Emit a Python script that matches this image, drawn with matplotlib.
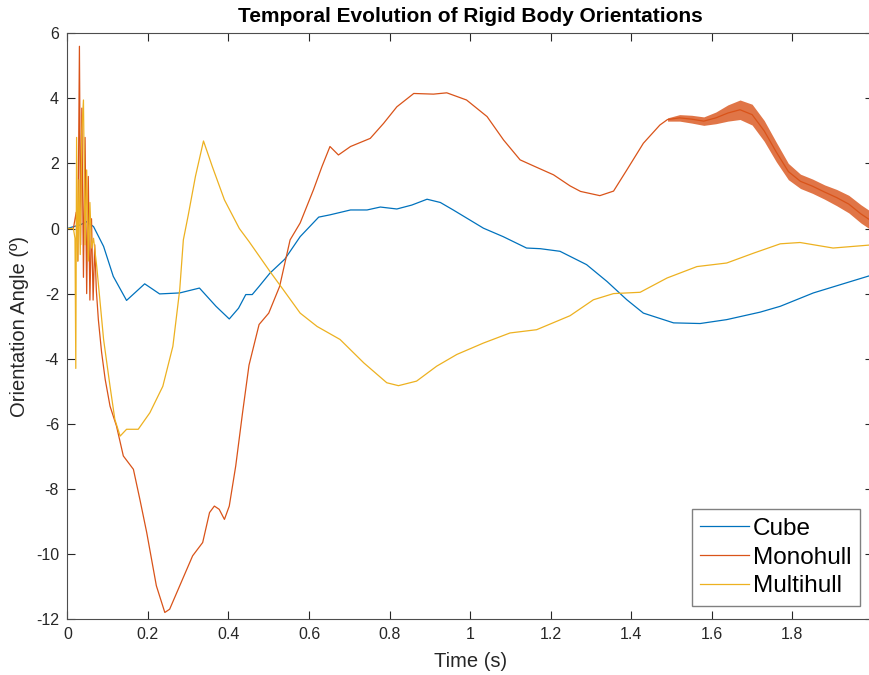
import numpy as np
import matplotlib.pyplot as plt

# Datos (tiempo en s, angulo en grados)
cube_t = [0, 0.016, 0.032, 0.048, 0.065, 0.090, 0.114, 0.147, 0.170, 0.192, 0.210, 0.229,
          0.279, 0.328, 0.369, 0.402, 0.425, 0.443, 0.459, 0.476, 0.503, 0.540, 0.578,
          0.624, 0.652, 0.703, 0.744, 0.777, 0.818, 0.855, 0.893, 0.926, 0.958, 1.033,
          1.082, 1.140, 1.174, 1.223, 1.289, 1.340, 1.389, 1.430, 1.505, 1.571, 1.637,
          1.720, 1.770, 1.852, 1.918, 2.0]
cube_v = [0, 0.06, 0.11, 0.21, 0.06, -0.55, -1.47, -2.21, -1.95, -1.70, -1.85, -2.01,
          -1.98, -1.83, -2.39, -2.78, -2.45, -2.03, -2.03, -1.78, -1.37, -0.94, -0.25,
          0.35, 0.42, 0.57, 0.57, 0.66, 0.60, 0.72, 0.90, 0.80, 0.57, 0.01,
          -0.25, -0.60, -0.62, -0.70, -1.11, -1.63, -2.19, -2.60, -2.90, -2.92, -2.80,
          -2.57, -2.39, -1.98, -1.73, -1.42]

mono_t = [0, 0.015, 0.022, 0.026, 0.030, 0.033, 0.036, 0.040, 0.044, 0.048, 0.052, 0.056,
          0.060, 0.064, 0.068, 0.072, 0.077, 0.085, 0.094, 0.106, 0.122, 0.139, 0.164,
          0.180, 0.197, 0.221, 0.242, 0.254, 0.279, 0.311, 0.336, 0.353, 0.365, 0.377,
          0.390, 0.402, 0.418, 0.435, 0.451, 0.476, 0.500, 0.527, 0.553, 0.578, 0.611,
          0.632, 0.652, 0.673, 0.703, 0.752, 0.785, 0.818, 0.860, 0.909, 0.942, 0.991,
          1.042, 1.083, 1.124, 1.158, 1.207, 1.248, 1.274, 1.322, 1.356, 1.389, 1.430,
          1.471, 1.49, 1.52, 1.55, 1.58, 1.61, 1.64, 1.67, 1.70, 1.73, 1.76, 1.79, 1.82,
          1.85, 1.88, 1.91, 1.94, 1.97, 2.0]
mono_v = [0, 0, 0.5, -1.0, 5.6, -0.5, 3.7, -1.5, 2.8, -2.0, 1.6, -2.2,
          0.3, -2.2, -0.5, -1.9, -2.8, -3.8, -4.64, -5.46, -6.07, -6.99, -7.40,
          -8.32, -9.34, -10.98, -11.80, -11.70, -10.98, -10.06, -9.65, -8.73, -8.53, -8.63,
          -8.94, -8.53, -7.30, -5.66, -4.20, -2.95, -2.60, -1.78, -0.35, 0.17, 1.19,
          1.90, 2.52, 2.26, 2.52, 2.77, 3.23, 3.74, 4.15, 4.13, 4.17, 3.95,
          3.44, 2.72, 2.11, 1.92, 1.65, 1.31, 1.14, 1.01, 1.15, 1.80, 2.62,
          3.18, 3.35, 3.40, 3.36, 3.30, 3.40, 3.55, 3.65, 3.50, 3.00, 2.35, 1.75, 1.45,
          1.30, 1.12, 0.95, 0.75, 0.45, 0.20]

# Banda de oscilacion rapida del Monohull (envolventes superior e inferior)
band_t = [1.49, 1.52, 1.55, 1.58, 1.61, 1.64, 1.67, 1.70, 1.73, 1.76, 1.79, 1.82,
          1.85, 1.88, 1.91, 1.94, 1.97, 2.00]
band_hi = [3.40, 3.50, 3.48, 3.43, 3.58, 3.80, 3.95, 3.82, 3.32, 2.65, 2.00, 1.67,
           1.52, 1.34, 1.20, 1.02, 0.73, 0.48]
band_lo = [3.30, 3.30, 3.24, 3.17, 3.22, 3.30, 3.35, 3.18, 2.68, 2.05, 1.50, 1.23,
           1.08, 0.90, 0.70, 0.48, 0.17, -0.08]

multi_t = [0, 0.015, 0.019, 0.021, 0.023, 0.026, 0.029, 0.032, 0.036, 0.040, 0.044, 0.048,
           0.052, 0.056, 0.060, 0.065, 0.073, 0.090, 0.106, 0.118, 0.131, 0.147, 0.176,
           0.205, 0.237, 0.262, 0.279, 0.288, 0.300, 0.318, 0.338, 0.360, 0.390, 0.427,
           0.451, 0.503, 0.536, 0.578, 0.620, 0.677, 0.736, 0.793, 0.822, 0.867, 0.917,
           0.967, 1.033, 1.099, 1.165, 1.248, 1.306, 1.356, 1.422, 1.489, 1.563, 1.637,
           1.703, 1.770, 1.819, 1.901, 2.0]
multi_v = [0, 0.0, -0.3, -4.3, 2.8, -1.0, 1.5, -0.8, 3.0, 3.95, -0.5, 1.8,
           -1.0, 0.8, -0.6, -0.3, -1.17, -3.41, -4.85, -5.87, -6.38, -6.17, -6.17,
           -5.66, -4.85, -3.62, -1.88, -0.35, 0.40, 1.60, 2.69, 1.90, 0.88, 0.0,
           -0.40, -1.32, -1.88, -2.60, -3.01, -3.41, -4.13, -4.74, -4.83, -4.69, -4.23,
           -3.87, -3.52, -3.21, -3.11, -2.68, -2.19, -2.00, -1.96, -1.52, -1.17, -1.06,
           -0.76, -0.47, -0.43, -0.60, -0.50]

c_cube = '#0072BD'
c_mono = '#D95319'
c_multi = '#EDB120'

plt.rcParams['font.family'] = ['Liberation Sans', 'DejaVu Sans']
plt.rcParams['axes.unicode_minus'] = False

fig = plt.figure(figsize=(8.7, 6.75), dpi=100)
ax = fig.add_axes([0.0774, 0.083, 0.926, 0.8677])

ax.plot(cube_t, cube_v, color=c_cube, lw=0.9, label='Cube')
ax.plot(mono_t, mono_v, color=c_mono, lw=0.9, label='Monohull')
ax.fill_between(band_t, band_lo, band_hi, color=c_mono, alpha=0.8, lw=0)
ax.plot(multi_t, multi_v, color=c_multi, lw=0.9, label='Multihull')

ax.set_xlim(0, 2)
ax.set_ylim(-12, 6)
ax.set_xticks(np.arange(0, 2.01, 0.2))
ax.set_xticklabels(['0', '0.2', '0.4', '0.6', '0.8', '1', '1.2', '1.4', '1.6', '1.8', '2'])
ax.set_yticks(np.arange(-12, 7, 2))
ax.tick_params(direction='in', top=True, right=True, length=6, width=0.8,
               colors='0.15', labelsize=11.5, pad=6)
for s in ax.spines.values():
    s.set_color('0.3')
    s.set_linewidth(0.8)

ax.set_xlabel('Time (s)', fontsize=14.5, color='0.15', labelpad=7)
ax.set_ylabel('Orientation Angle (º)', fontsize=14.5, color='0.15', labelpad=5)
ax.set_title('Temporal Evolution of Rigid Body Orientations', fontsize=15,
             fontweight='bold', pad=8)

leg = ax.legend(loc='lower right', fontsize=17.5, handlelength=2.0, handletextpad=0.15,
                labelspacing=0.27, borderaxespad=0.55, fancybox=False, framealpha=1,
                borderpad=0.35)
leg.get_frame().set_edgecolor('0.5')
leg.get_frame().set_linewidth(1.0)

fig.savefig('out.png', dpi=100)
